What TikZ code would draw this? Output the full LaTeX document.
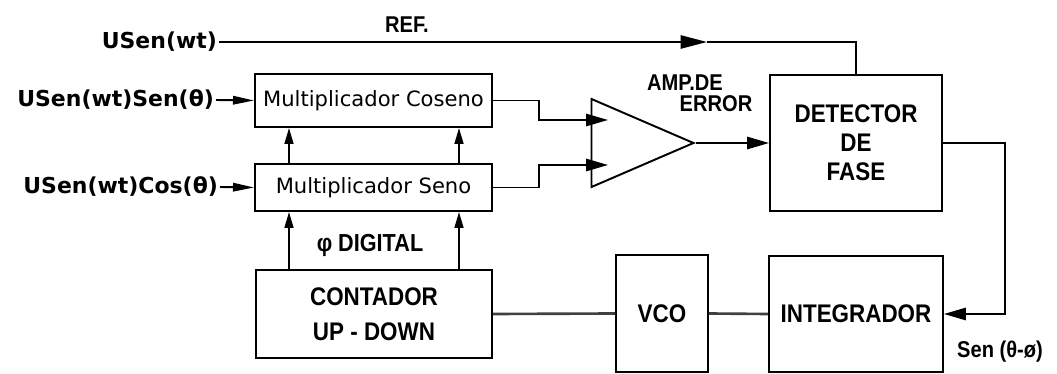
\documentclass[tikz,border=0pt]{standalone}
\usepackage{fontspec}
\setmainfont{Liberation Sans}
\newfontfamily\labelfont{DejaVu Sans}
\newfontfamily\capsfont[FakeStretch=0.88]{Liberation Sans}
\usetikzlibrary{arrows.meta,shapes.geometric}
\tikzset{
	block/.style={draw,line width=1.1pt,inner sep=0pt,align=center,font=\capsfont\bfseries\fontsize{14.5}{17}\selectfont},
	multbox/.style={block,minimum width=4.74cm,font=\labelfont\fontsize{12}{14}\selectfont},
	wire/.style={line width=1.1pt},
	bus/.style={line width=1.5pt,black!75},
	sig/.style={wire,-{Triangle[length=12.5pt,width=7pt]}},
	feed/.style={wire,-{Triangle[length=12pt,width=4.8pt]}},
	up/.style={wire,-{Triangle[length=9pt,width=5pt]}},
	refarrow/.style={wire,-{Triangle[length=15pt,width=7.5pt]}},
	lbl/.style={inner sep=1pt,font=\labelfont\bfseries\fontsize{12.5}{15}\selectfont},
	caps/.style={inner sep=0pt,font=\capsfont\bfseries\fontsize{13}{15}\selectfont},
}
\begin{document}
\begin{tikzpicture}[x=0.02cm,y=-0.02cm]
	\useasboundingbox (0,0) rectangle (1057,374);

	\node[multbox,minimum height=1.06cm] (cos) at (373.5,100.5) {Multiplicador Coseno};
	\node[multbox,minimum height=0.94cm] (seno) at (373.5,187.5) {Multiplicador Seno};
	\node[block,minimum width=4.72cm,minimum height=1.76cm,font=\capsfont\bfseries\fontsize{14.5}{20}\selectfont] (cont) at (374,314) {CONTADOR\\UP - DOWN};
	\node[block,minimum width=1.84cm,minimum height=2.34cm] (vco) at (662,313.5) {VCO};
	\node[block,minimum width=3.48cm,minimum height=2.32cm] (integ) at (856,314) {INTEGRADOR};
	\node[block,minimum width=3.44cm,minimum height=2.72cm,font=\capsfont\bfseries\fontsize{14.5}{16.5}\selectfont] (det) at (856,143) {DETECTOR\\DE\\FASE};
	\node[draw,line width=1.1pt,isosceles triangle,isosceles triangle stretches,minimum width=1.76cm,minimum height=2.04cm,inner sep=0pt,anchor=apex] (amp) at (696,143) {};

	\node[lbl,anchor=east] (usen) at (219,42) {USen(wt)};
	\node[caps] (ref) at (407,25) {REF.};
	\node[lbl,anchor=east] (usin) at (216,100) {USen(wt)Sen(θ)};
	\node[lbl,anchor=east] (ucos) at (220,187) {USen(wt)Cos(θ)};
	\node[caps,font=\capsfont\bfseries\fontsize{14}{15}\selectfont] (phi) at (370,245) {φ DIGITAL};
	\node[caps] (ampa) at (685,83) {AMP.DE};
	\node[caps] (ampb) at (716,104) {ERROR};
	\node[caps] (sen) at (1000,352) {Sen (θ-ø)};

	\coordinate (refmid) at (707,42);
	\coordinate (in1) at (608,120);
	\coordinate (in2) at (608,165);

	\draw[refarrow] (usen.east) -- (refmid);
	\draw[wire] (refmid) -| (det.north);
	\draw[feed] (usin.east) -- (cos.west);
	\draw[feed] (ucos.east) -- (seno.west);
	\draw[sig] (cos.east) -- ++(46,0) |- (in1);
	\draw[sig] (seno.east) -- ++(46,0) |- (in2);
	\draw[sig] (amp.apex) -- (det.west |- amp.apex);
	\draw[sig] (det.east) -- ++(62,0) |- (integ.east);
	\draw[bus] (integ.west) -- (vco.east);
	\draw[bus] (vco.west) -- (cont.east);
	\foreach \px in {289,459} {
		\draw[up] (cont.north -| \px,0) -- (seno.south -| \px,0);
		\draw[up] (seno.north -| \px,0) -- (cos.south -| \px,0);
	}
\end{tikzpicture}
\end{document}
